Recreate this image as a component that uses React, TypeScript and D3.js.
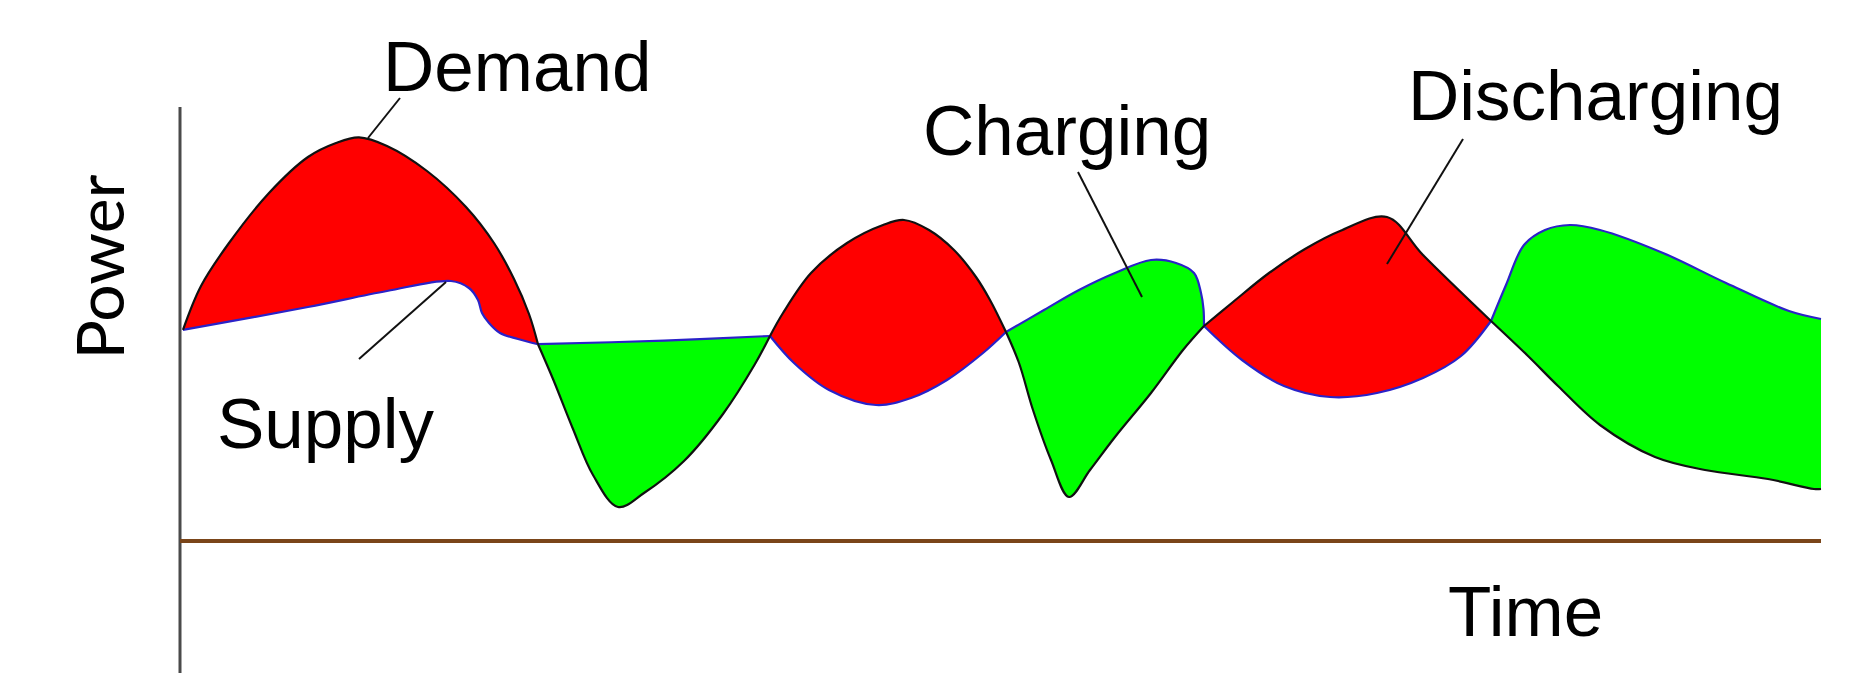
import React from 'react';
import * as d3 from 'd3';

const WIDTH = 1860;
const HEIGHT = 673;

// Time (x) and Power (y), arbitrary chart units
const demand: [number, number][] = [
  [0.3, 52.8], [2.1, 63.75], [4.9, 74.5], [8.9, 87], [12.8, 96], [15.6, 99.5], [17.9, 100.9],
  [20.7, 98.75], [24.7, 92.5], [28.6, 83.5], [31.4, 74.5], [33.4, 65.5], [34.9, 56.75], [35.8, 49.2],
  [37.3, 40.5], [39.3, 28], [41.3, 16.5], [43.8, 8.5], [46.4, 12], [50.4, 20], [54.3, 31.75], [57.5, 44.25], [59, 51.25],
  [60.3, 57], [63.1, 67], [66.7, 74.5], [70.3, 79], [72.4, 80.25], [74.9, 77.75], [77.4, 72.75], [79.6, 66], [81, 60.25], [82.6, 52.25],
  [83.9, 44.5], [85.3, 32.75], [87.1, 20.25], [88.9, 11], [91, 17.75], [93.5, 26], [97.1, 37], [100.3, 47.75], [102.4, 53.75],
  [105.3, 59.75], [108.9, 67], [112.5, 73], [116, 77.5], [120.7, 81], [124.3, 71.5], [131.1, 55],
  [134.8, 46.25], [137.8, 38.75], [142, 29], [147.5, 21], [152.5, 17.75], [158.8, 15.5], [163.4, 13], [164.1, 13],
];

const supply: [number, number][] = [
  [0.3, 52.8], [12.8, 58.5], [20.7, 62.5], [27.1, 65], [28.9, 63.25], [29.8, 60.25], [30.2, 57], [30.9, 54.5], [32, 52],
  [33.8, 50.5], [35.8, 49.2],
  [48.4, 50.1], [59, 51.25],
  [61.4, 44.5], [64.9, 37.75], [69.6, 34], [73.1, 35.75], [76.7, 40.25], [80.3, 47], [82.6, 52.25],
  [86.4, 57.75], [89.9, 62.75], [93.5, 67], [97.1, 70.25], [99.6, 69.5], [101.4, 67], [102.1, 62], [102.35, 58], [102.4, 53.75],
  [106.2, 45.25], [110.4, 38.75], [115, 36], [119.7, 37], [124.3, 40.75], [128.1, 46.25], [131.1, 55],
  [132.6, 64], [134.4, 74], [136.5, 77.75], [139, 79], [142, 77.75], [148.3, 72], [154.6, 64.5], [160.9, 57.5], [164.1, 55.5],
];

// segment boundaries (crossings) and phase of each segment
const boundaries: number[] = [0.3, 35.8, 59, 82.6, 102.4, 131.1, 164.1];
const phases: string[] = ['discharging', 'charging', 'discharging', 'charging', 'discharging', 'charging'];

// annotations
const labels: string[] = ['Demand', 'Supply', 'Charging', 'Discharging'];
const labelPos: [number, number][] = [[20.3, 112.5], [3.7, 23.25], [74.3, 96.5], [122.8, 105.25]];
const leaderFrom: [number, number][] = [[22, 110.75], [26.6, 64.75], [89.8, 92.25], [128.3, 100.5]];
const leaderTo: [number, number][] = [[18.8, 100.75], [17.9, 45.5], [96.2, 61], [120.7, 69.25]];

const xTitle = 'Time';
const xTitlePos: [number, number] = [126.8, -23.75];
const yTitle = 'Power';
const yTitleCenter = 68.5;

const xDomain: [number, number] = [0, 164.1];
const yDomain: [number, number] = [0, 108.5];
const yAxisBottom = -33;

const COLORS: Record<string, string> = { discharging: '#ff0000', charging: '#00ff00' };

export default function App() {
  const x = d3.scaleLinear().domain(xDomain).range([180, 1821]);
  const y = d3.scaleLinear().domain(yDomain).range([541, 107]);

  const line = d3
    .line<[number, number]>()
    .x((d) => x(d[0]))
    .y((d) => y(d[1]))
    .curve(d3.curveCatmullRom.alpha(0.5));

  const segments = phases.map((phase, i) => {
    const a = boundaries[i];
    const b = boundaries[i + 1];
    const dSeg = demand.filter((p) => p[0] >= a && p[0] <= b);
    const sSeg = supply.filter((p) => p[0] >= a && p[0] <= b);
    const dPath = line(dSeg) || '';
    const sPath = line(sSeg) || '';
    const sRev = (line(sSeg.slice().reverse()) || '').replace(/^M/, 'L');
    return { phase, fill: dPath + sRev + 'Z', dPath, sPath };
  });

  const font = '"Liberation Sans", Arial, sans-serif';

  return (
    <svg
      width={WIDTH}
      height={HEIGHT}
      style={{ position: 'absolute', left: 0, top: 0, background: '#fff' }}
    >
      <rect x={0} y={0} width={WIDTH} height={HEIGHT} fill="#fff" />
      {/* axes */}
      <line x1={x(0)} x2={x(0)} y1={y(yDomain[1])} y2={y(yAxisBottom)} stroke="#4a4a4a" strokeWidth={3} />
      <line x1={x(0)} x2={x(xDomain[1])} y1={y(0)} y2={y(0)} stroke="#7a4519" strokeWidth={4} />

      {/* filled regions */}
      {segments.map((s, i) => (
        <path key={'f' + i} d={s.fill} fill={COLORS[s.phase]} stroke="none" />
      ))}
      {segments.map((s, i) => (
        <path key={'s' + i} d={s.sPath} fill="none" stroke="#2a22c8" strokeWidth={2.2} />
      ))}
      {segments.map((s, i) => (
        <path key={'d' + i} d={s.dPath} fill="none" stroke="#111" strokeWidth={2.2} />
      ))}

      {/* leaders */}
      {labels.map((l, i) => (
        <line
          key={'l' + i}
          x1={x(leaderFrom[i][0])}
          y1={y(leaderFrom[i][1])}
          x2={x(leaderTo[i][0])}
          y2={y(leaderTo[i][1])}
          stroke="#111"
          strokeWidth={2}
        />
      ))}
      {labels.map((l, i) => (
        <text key={'t' + i} x={x(labelPos[i][0])} y={y(labelPos[i][1])} fontFamily={font} fontSize={71} fill="#000">
          {l}
        </text>
      ))}

      <text x={x(xTitlePos[0])} y={y(xTitlePos[1])} fontFamily={font} fontSize={71} fill="#000">
        {xTitle}
      </text>
      <text
        transform={`translate(${x(0) - 56}, ${y(yTitleCenter)}) rotate(-90)`}
        textAnchor="middle"
        fontFamily="Lato, 'Open Sans', sans-serif"
        fontSize={66}
        fill="#000"
      >
        {yTitle}
      </text>
    </svg>
  );
}
